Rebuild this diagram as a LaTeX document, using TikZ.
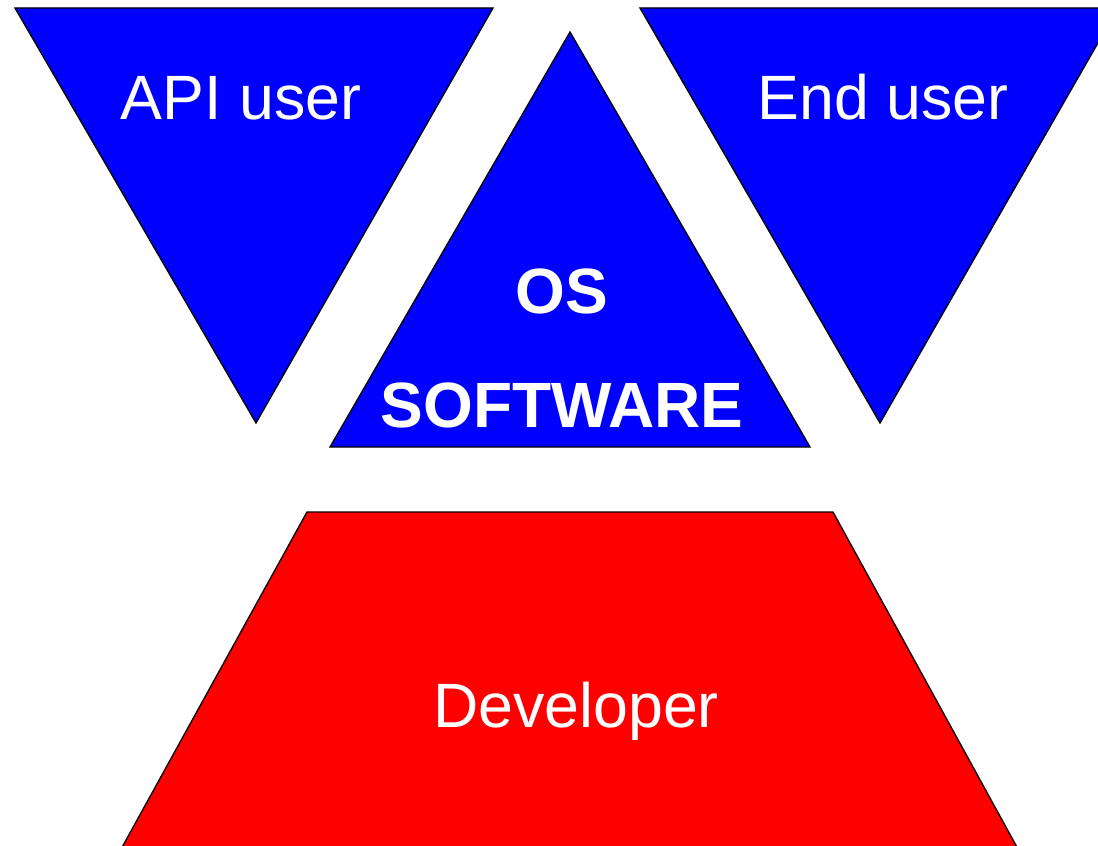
\documentclass[tikz,border=0pt]{standalone}
\usepackage{fontspec}
\setmainfont{Liberation Sans}

\begin{document}
\begin{tikzpicture}[x=0.75pt,y=-0.75pt,
    piece/.style={draw=black,line width=1pt},
    nametext/.style={text=white,inner sep=0pt,anchor=base,font=\fontsize{47}{56}\selectfont},
    boldtext/.style={nametext,font=\fontsize{48}{57}\selectfont\bfseries}]
  \useasboundingbox (0,0) rectangle (1098,845);
  % the two users
  \draw[piece,fill=blue] (15,8) -- (493,8) -- (256,423) -- cycle;
  \draw[piece,fill=blue] (640,8) -- (1118,8) -- (880,423) -- cycle;
  % os / software in the middle
  \draw[piece,fill=blue] (570,32) -- (810,447) -- (330,447) -- cycle;
  % developer below
  \draw[piece,fill=red] (307,512) -- (833,512) -- (1035,880) -- (104,880) -- cycle;
  \node[nametext] (apiuser) at (241,120) {API user};
  \node[nametext] (enduser) at (883,120) {End user};
  \node[boldtext] (os) at (562,313) {OS};
  \node[boldtext] (software) at (562,427) {SOFTWARE};
  \node[nametext] (developer) at (576,727) {Developer};
\end{tikzpicture}
\end{document}
